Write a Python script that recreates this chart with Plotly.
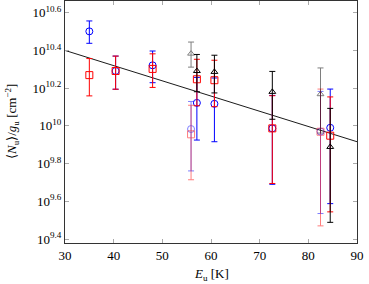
import plotly.graph_objects as go

# Upper-level energies [K]
energies = [35.0, 40.4, 48.0, 55.9, 57.1, 60.7, 72.6, 82.5, 84.5]
faded_energies = [55.9, 82.5]

# Column density per statistical weight, in units of 1e10 cm^-2
blue_vals = [3.17, 1.954, 2.094, 0.962, 1.324, 1.309, 0.970, 0.933, 0.977]
blue_errs = [0.43, 0.39, 0.40, 0.385, 0.483, 0.485, 0.48, 0.59, 0.59]

red_vals = [1.858, 1.954, 2.004, 0.902, 1.766, 1.746, 0.970, 0.931, 0.887]
red_errs = [0.416, 0.39, 0.405, 0.384, 0.488, 0.482, 0.475, 0.636, 0.537]

tri_energies = [55.9, 57.1, 60.7, 72.6, 82.5, 84.5]
tri_vals = [2.415, 1.954, 1.932, 1.514, 1.472, 0.773]
tri_errs = [0.367, 0.437, 0.437, 0.43, 0.556, 0.465]

# Rotation-diagram fit (log10 values at the x-range ends)
fit_x = [30, 90]
fit_logy = [10.40, 9.916]

ytick_exps = [9.4, 9.6, 9.8, 10.0, 10.2, 10.4, 10.6]
ytick_labels = ["10<sup>9.4</sup>", "10<sup>9.6</sup>", "10<sup>9.8</sup>", "10<sup>10</sup>",
                "10<sup>10.2</sup>", "10<sup>10.4</sup>", "10<sup>10.6</sup>"]
xtick_vals = [30, 40, 50, 60, 70, 80, 90]

SCALE = 1e10
FONT = "Liberation Serif"
fig = go.Figure()

fig.add_trace(go.Scatter(x=fit_x, y=[10 ** v for v in fit_logy], mode="lines",
                         line=dict(color="black", width=0.9), showlegend=False,
                         hoverinfo="skip"))


def add_series(xs, vals, errs, color, symbol, size):
    for faded in (False, True):
        sel = [i for i, x in enumerate(xs) if (x in faded_energies) == faded]
        if not sel:
            continue
        fig.add_trace(go.Scatter(
            x=[xs[i] for i in sel],
            y=[vals[i] * SCALE for i in sel],
            mode="markers",
            opacity=0.5 if faded else 1.0,
            marker=dict(symbol=symbol, size=size, color="rgba(255,255,255,0)",
                        line=dict(color=color, width=1)),
            error_y=dict(type="data", array=[errs[i] * SCALE for i in sel],
                         symmetric=True, color=color, thickness=1, width=3),
            showlegend=False,
        ))


add_series(energies, blue_vals, blue_errs, "#0000ff", "circle", 7)
add_series(energies, red_vals, red_errs, "#ff0000", "square", 7)
add_series(tri_energies, tri_vals, tri_errs, "#000000", "triangle-up", 6)

axis_common = dict(showgrid=False, zeroline=False, showline=True, linecolor="#333",
                   linewidth=1, mirror="allticks", ticks="inside", ticklen=4,
                   tickcolor="#aaa", tickwidth=1,
                   tickfont=dict(family=FONT, size=13, color="black"))

fig.update_layout(
    width=369, height=284,
    margin=dict(l=65, r=12, t=1, b=41),
    plot_bgcolor="white", paper_bgcolor="white",
    xaxis=dict(range=[30, 90], tickvals=xtick_vals, **axis_common),
    yaxis=dict(type="log", range=[9.379, 10.662],
               tickvals=[10 ** e for e in ytick_exps], ticktext=ytick_labels,
               **axis_common),
    annotations=[
        dict(text="<i>E</i><sub>u</sub> [K]", x=0.5, y=0, xref="paper", yref="paper",
             xanchor="center", yanchor="top", yshift=-21, showarrow=False,
             font=dict(family=FONT, size=13, color="black")),
        dict(text="⟨<i>N</i><sub>u</sub>⟩/<i>g</i><sub>u</sub> [cm<sup>−2</sup>]",
             x=0, y=0.5, xref="paper", yref="paper", xanchor="center", yanchor="middle",
             xshift=-53, textangle=-90, showarrow=False,
             font=dict(family=FONT, size=13, color="black")),
    ],
)

fig.write_html("out.html", config={"displayModeBar": False},
               post_script="document.body.style.margin='0';")
